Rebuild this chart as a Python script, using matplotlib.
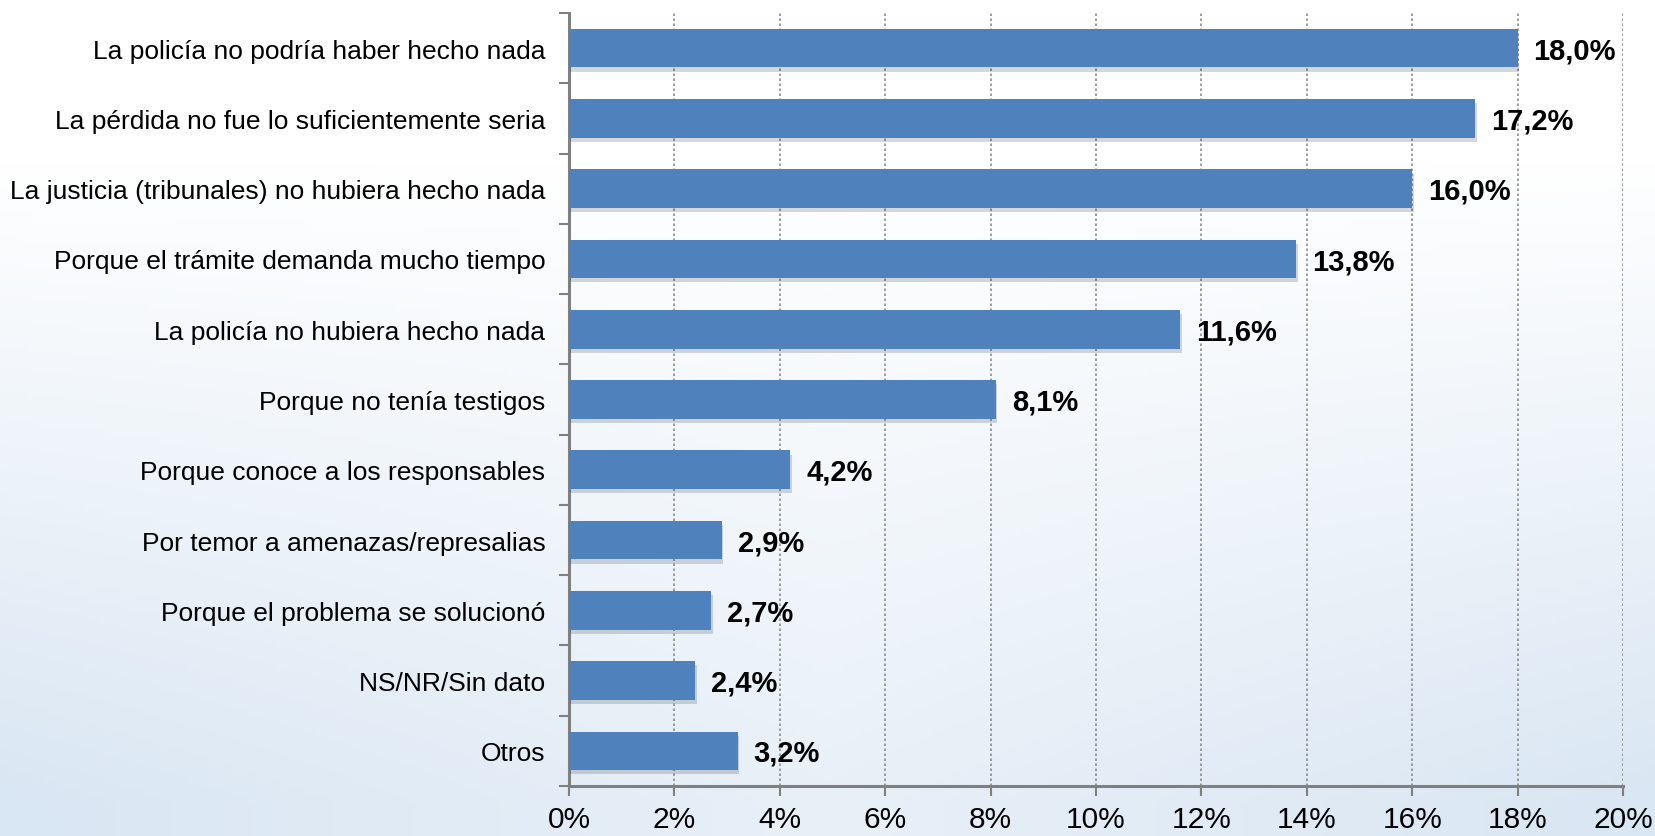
import numpy as np
import matplotlib.pyplot as plt
import matplotlib.patheffects as pe
from matplotlib.colors import LinearSegmentedColormap

categories = [
    "La policía no podría haber hecho nada",
    "La pérdida no fue lo suficientemente seria",
    "La justicia (tribunales) no hubiera hecho nada",
    "Porque el trámite demanda mucho tiempo",
    "La policía no hubiera hecho nada",
    "Porque no tenía testigos",
    "Porque conoce a los responsables",
    "Por temor a amenazas/represalias",
    "Porque el problema se solucionó",
    "NS/NR/Sin dato",
    "Otros",
]
values = [18.0, 17.2, 16.0, 13.8, 11.6, 8.1, 4.2, 2.9, 2.7, 2.4, 3.2]
xticks = [0, 2, 4, 6, 8, 10, 12, 14, 16, 18, 20]

plt.rcParams['font.family'] = ['Liberation Sans', 'DejaVu Sans']

fig = plt.figure(figsize=(16.56, 8.37), dpi=100)

# soft background wash, white on top fading to pale blue
bg = fig.add_axes([0, 0, 1, 1], zorder=-10)
yy = np.linspace(0, 1, 200)[:, None]
xx = np.linspace(0, 1, 300)[None, :]
grad = np.clip(yy * 1.3 - 0.25, 0, 1) * (0.6 + 0.4 * np.abs(xx - 0.5) * 2)
cmap = LinearSegmentedColormap.from_list('wash', ['#ffffff', '#d9e6f3'])
bg.imshow(grad, cmap=cmap, aspect='auto', extent=[0, 1, 0, 1], vmin=0, vmax=1)
bg.axis('off')

ax = fig.add_axes([569 / 1656, 1 - 787 / 837, 1054 / 1656, 773 / 837])
ax.patch.set_alpha(0)

y = np.arange(len(categories))
shadow = [pe.SimplePatchShadow(offset=(1, -3), alpha=0.18), pe.Normal()]
bars = ax.barh(y, values, height=0.55, color='#4f81bd', zorder=3)
for b in bars:
    b.set_path_effects(shadow)

for yi, v in zip(y, values):
    ax.text(v + 0.3, yi + 0.03, f"{v:.1f}%".replace('.', ','), va='center', ha='left',
            fontsize=21, fontweight='bold', color='black', zorder=4)

ax.set_xlim(0, 20)
ax.set_ylim(len(categories) - 0.5, -0.5)
ax.set_xticks(xticks)
ax.set_xticklabels([f"{t}%" for t in xticks], fontsize=21.5)
ax.set_yticks(y)
ax.set_yticklabels(categories, fontsize=19)
ax.set_yticks(np.arange(-0.5, len(categories), 1), minor=True)
ax.tick_params(axis='y', which='major', length=0, pad=17)
ax.tick_params(axis='y', which='minor', length=7, width=1.5, color='#808080', direction='out')
ax.tick_params(axis='x', length=7, width=1.5, color='#808080', direction='out', pad=7)

ax.grid(axis='x', linestyle=(0, (1.5, 1.5)), color='#8c8c8c', linewidth=1.2, zorder=0)
ax.set_axisbelow(True)
for side in ['top', 'right']:
    ax.spines[side].set_visible(False)
for side in ['left', 'bottom']:
    ax.spines[side].set_color('#808080')
    ax.spines[side].set_linewidth(2.2)

fig.savefig('out.png', dpi=100)
